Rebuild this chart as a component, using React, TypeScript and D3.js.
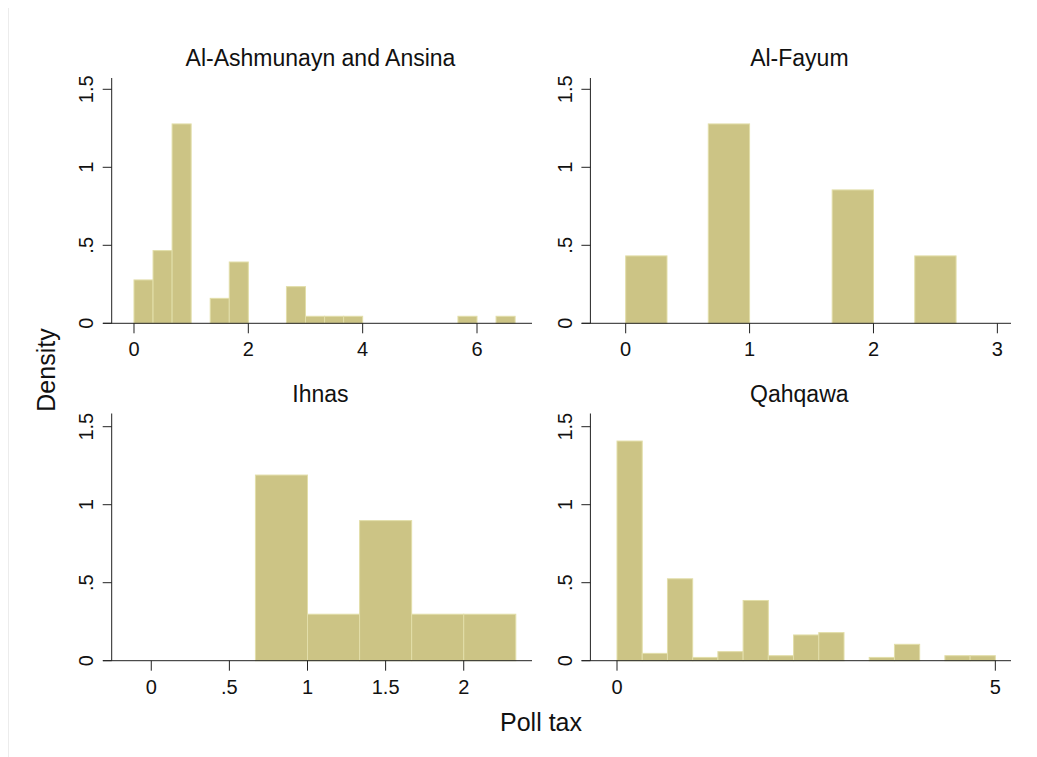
import React, { useEffect } from 'react';
import * as d3 from 'd3';

// histogram densities, bins of width 1/3
const panelTitles = ['Al-Ashmunayn and Ansina', 'Al-Fayum', 'Ihnas', 'Qahqawa'];
const binWidths = [1 / 3, 1 / 3, 1 / 3, 1 / 3];
const binStarts = [0, 0, 2 / 3, 0];

const ashmunayn = [0.278, 0.466, 1.278, 0, 0.16, 0.393, 0, 0, 0.235, 0.045,
    0.045, 0.045, 0, 0, 0, 0, 0, 0.045, 0, 0.045];
const fayum = [0.432, 0, 1.278, 0, 0, 0.855, 0, 0.432];
const ihnas = [1.19, 0.298, 0.898, 0.298, 0.298];
const qahqawa = [1.408, 0.047, 0.525, 0.021, 0.058, 0.386, 0.032, 0.165, 0.18, 0,
    0.021, 0.105, 0, 0.032, 0.032];

const xTicks = [[0, 2, 4, 6], [0, 1, 2, 3], [0, 0.5, 1, 1.5, 2], [0, 5]];
const xTickLabels = [['0', '2', '4', '6'], ['0', '1', '2', '3'], ['0', '.5', '1', '1.5', '2'], ['0', '5']];
const yTicks = [0, 0.5, 1, 1.5];
const yTickLabels = ['0', '.5', '1', '1.5'];
const xDomains = [[-0.542, 6.962], [-0.355, 3.11], [-0.309, 2.437], [-0.4666, 5.207]];

const series = [ashmunayn, fayum, ihnas, qahqawa];

const font = '"Liberation Sans", Arial, Helvetica, sans-serif';
const fill = '#ccc485';
const edge = '#e2dea9';
const axisColor = '#222';

function Panel({ idx, left, right, zeroY, topY }) {
    const yAxisX = left + 8.7;
    const x = d3.scaleLinear().domain(xDomains[idx]).range([left, right]);
    const y = d3.scaleLinear().domain([0, 1.5]).range([zeroY, zeroY - 234]);
    const vals = series[idx];
    const bins = vals.map((v, i) => ({
        x0: binStarts[idx] + i * binWidths[idx],
        x1: binStarts[idx] + (i + 1) * binWidths[idx],
        v
    })).filter(b => b.v > 0);

    return (
        <g>
            <text x={(left + right) / 2 + 3} y={topY - 12} textAnchor="middle"
                fontSize={23} fill="#111">{panelTitles[idx]}</text>
            {bins.map((b, i) => (
                <rect key={i} x={x(b.x0)} y={y(b.v)} width={x(b.x1) - x(b.x0)}
                    height={zeroY - y(b.v)} fill={fill} stroke={edge} strokeWidth={1} />
            ))}
            <line x1={yAxisX} x2={yAxisX} y1={topY} y2={zeroY} stroke={axisColor} />
            {yTicks.map((t, i) => (
                <g key={i}>
                    <line x1={yAxisX - 9} x2={yAxisX} y1={y(t)} y2={y(t)} stroke={axisColor} />
                    <text transform={`translate(${yAxisX - 18.5},${y(t)}) rotate(-90)`}
                        textAnchor="middle" fontSize={20} fill="#111">{yTickLabels[i]}</text>
                </g>
            ))}
            <line x1={left} x2={right} y1={zeroY} y2={zeroY} stroke={axisColor} />
            {xTicks[idx].map((t, i) => (
                <g key={i}>
                    <line x1={x(t)} x2={x(t)} y1={zeroY} y2={zeroY + 10} stroke={axisColor} />
                    <text x={x(t)} y={zeroY + 33} textAnchor="middle" fontSize={20}
                        fill="#111">{xTickLabels[idx][i]}</text>
                </g>
            ))}
        </g>
    );
}

export default function App() {
    useEffect(() => {
        document.body.style.overflow = 'hidden';
    }, []);

    const cols = [[103, 532], [581.7, 1011]];
    const rows = [[323.3, 78], [660.7, 413.5]];

    return (
        <svg width={1029} height={749} style={{ display: 'block', fontFamily: font }}>
            <g transform="translate(-8,-8)">
                <rect x={8.5} y={7.5} width={1040} height={760} fill="#fff" stroke="#ececec" />
                {[0, 1, 2, 3].map(i => (
                    <Panel key={i} idx={i}
                        left={cols[i % 2][0]} right={cols[i % 2][1]}
                        zeroY={rows[Math.floor(i / 2)][0]} topY={rows[Math.floor(i / 2)][1]} />
                ))}
                <text transform="translate(55,370) rotate(-90)" textAnchor="middle"
                    fontSize={25} fill="#111">Density</text>
                <text x={541} y={731} textAnchor="middle" fontSize={25} fill="#111">Poll tax</text>
            </g>
        </svg>
    );
}
